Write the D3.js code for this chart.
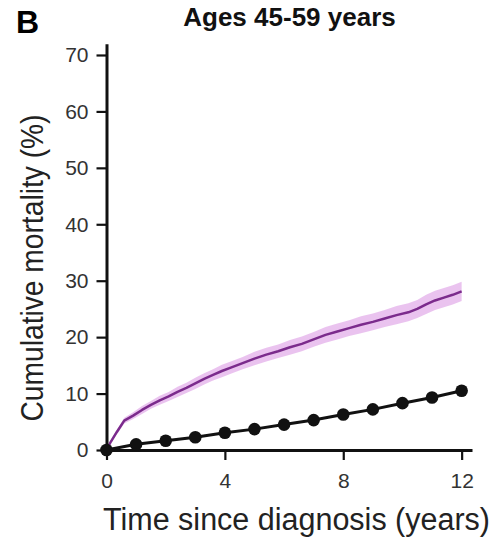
<!DOCTYPE html>
<html>
<head>
<meta charset="utf-8">
<script src="https://cdn.jsdelivr.net/npm/d3@7"></script>
<style>
  body { margin: 0; background: #fff; }
  svg { display: block; }
</style>
</head>
<body>
<script>
// cumulative mortality, ages 45-59
var cohortTime  = [0, 0.15, 0.35, 0.6, 0.9, 1.2, 1.5, 1.8, 2.1, 2.4, 2.7, 3.0, 3.3, 3.6, 3.9,
                   4.2, 4.6, 5.0, 5.4, 5.8, 6.2, 6.6, 7.0, 7.4, 7.8, 8.2, 8.6, 9.0, 9.4, 9.8,
                   10.2, 10.5, 10.8, 11.1, 11.4, 11.7, 12.0];
var cohortValue = [0, 1.5, 3.2, 5.2, 6.1, 7.1, 8.0, 8.8, 9.5, 10.3, 11.0, 11.8, 12.6, 13.3, 14.0,
                   14.6, 15.4, 16.2, 16.9, 17.5, 18.2, 18.8, 19.6, 20.4, 21.0, 21.6, 22.2, 22.7, 23.3, 23.9,
                   24.4, 25.0, 25.8, 26.5, 27.0, 27.5, 28.1];
var cohortLow   = [0, 1.2, 2.8, 4.7, 5.5, 6.4, 7.3, 8.0, 8.7, 9.4, 10.1, 10.8, 11.6, 12.3, 12.9,
                   13.5, 14.3, 15.0, 15.7, 16.3, 16.9, 17.5, 18.3, 19.0, 19.6, 20.2, 20.7, 21.2, 21.8, 22.3,
                   22.8, 23.4, 24.1, 24.8, 25.3, 25.8, 26.4];
var cohortHigh  = [0, 1.8, 3.6, 5.7, 6.7, 7.8, 8.7, 9.6, 10.3, 11.2, 11.9, 12.8, 13.6, 14.3, 15.1,
                   15.7, 16.5, 17.4, 18.1, 18.7, 19.5, 20.1, 20.9, 21.8, 22.4, 23.0, 23.7, 24.2, 24.8, 25.5,
                   26.0, 26.6, 27.5, 28.2, 28.7, 29.2, 29.8];

var generalYear  = [0, 1, 2, 3, 4, 5, 6, 7, 8, 9, 10, 11, 12];
var generalValue = [0, 1.0, 1.65, 2.25, 3.05, 3.7, 4.5, 5.3, 6.3, 7.2, 8.3, 9.3, 10.5];

var xTicks = [0, 4, 8, 12];
var yTicks = [0, 10, 20, 30, 40, 50, 60, 70];

var width = 495, height = 538;

var svg = d3.select("body").append("svg")
    .attr("width", width)
    .attr("height", height);

var x = d3.scaleLinear().domain([0, 12.35]).range([106.5, 472]);
var y = d3.scaleLinear().domain([0, 72]).range([450, 43.7]);

var tickFont = "'Liberation Sans', Arial, sans-serif";
var narrowFont = "'Liberation Sans Narrow', 'Arial Narrow', 'Liberation Sans', sans-serif";

// panel letter + title
svg.append("text")
    .attr("x", 16).attr("y", 33)
    .style("font-family", tickFont)
    .style("font-weight", "bold")
    .style("font-size", "32px")
    .text("B");

svg.append("text")
    .attr("x", 289.5).attr("y", 26)
    .attr("text-anchor", "middle")
    .style("font-family", tickFont)
    .style("font-weight", "bold")
    .style("font-size", "26px")
    .style("fill", "#111")
    .text("Ages 45-59 years");

// confidence band + cohort line
var band = cohortTime.map(function(t, i) { return {t: t, lo: cohortLow[i], hi: cohortHigh[i]}; });
svg.append("path")
    .datum(band)
    .attr("fill", "#e6b9ec")
    .attr("opacity", 0.85)
    .attr("d", d3.area()
      .x(function(d) { return x(d.t); })
      .y0(function(d) { return y(d.lo); })
      .y1(function(d) { return y(d.hi); }));

svg.append("path")
    .datum(cohortTime.map(function(t, i) { return [t, cohortValue[i]]; }))
    .attr("fill", "none")
    .attr("stroke", "#7b2b8c")
    .attr("stroke-width", 2.5)
    .attr("stroke-linejoin", "round")
    .attr("d", d3.line()
      .x(function(d) { return x(d[0]); })
      .y(function(d) { return y(d[1]); }));

// axes
var yAxis = svg.append("g")
    .attr("transform", "translate(" + x(0) + ",0)")
    .call(d3.axisLeft(y).tickValues(yTicks).tickSize(10).tickSizeOuter(0).tickPadding(8));

var xAxis = svg.append("g")
    .attr("transform", "translate(0," + y(0) + ")")
    .call(d3.axisBottom(x).tickValues(xTicks).tickSize(10).tickSizeOuter(0).tickPadding(13));

[xAxis, yAxis].forEach(function(g) {
  g.select(".domain").attr("stroke", "#111").attr("stroke-width", 3);
  g.selectAll(".tick line").attr("stroke", "#111").attr("stroke-width", 2.2);
  g.selectAll(".tick text")
      .attr("fill", "#333")
      .style("font-family", tickFont)
      .style("font-size", "21px");
});

// general population line with yearly dots
var general = generalYear.map(function(t, i) { return [t, generalValue[i]]; });
svg.append("path")
    .datum(general)
    .attr("fill", "none")
    .attr("stroke", "#111")
    .attr("stroke-width", 3)
    .attr("d", d3.line()
      .x(function(d) { return x(d[0]); })
      .y(function(d) { return y(d[1]); }));

svg.selectAll("circle.dot")
    .data(general)
  .enter().append("circle")
    .attr("class", "dot")
    .attr("cx", function(d) { return x(d[0]); })
    .attr("cy", function(d) { return y(d[1]); })
    .attr("r", 6.3)
    .attr("fill", "#111");

// axis titles (condensed face in the original, squeezed to its width)
svg.append("text")
    .attr("x", 296.5).attr("y", 530)
    .attr("text-anchor", "middle")
    .attr("textLength", 387)
    .attr("lengthAdjust", "spacingAndGlyphs")
    .style("font-family", narrowFont)
    .style("font-size", "31px")
    .style("fill", "#222")
    .text("Time since diagnosis (years)");

svg.append("text")
    .attr("transform", "translate(43,268)rotate(-90)")
    .attr("text-anchor", "middle")
    .attr("textLength", 307)
    .attr("lengthAdjust", "spacingAndGlyphs")
    .style("font-family", narrowFont)
    .style("font-size", "31px")
    .style("fill", "#222")
    .text("Cumulative mortality (%)");
</script>
</body>
</html>
